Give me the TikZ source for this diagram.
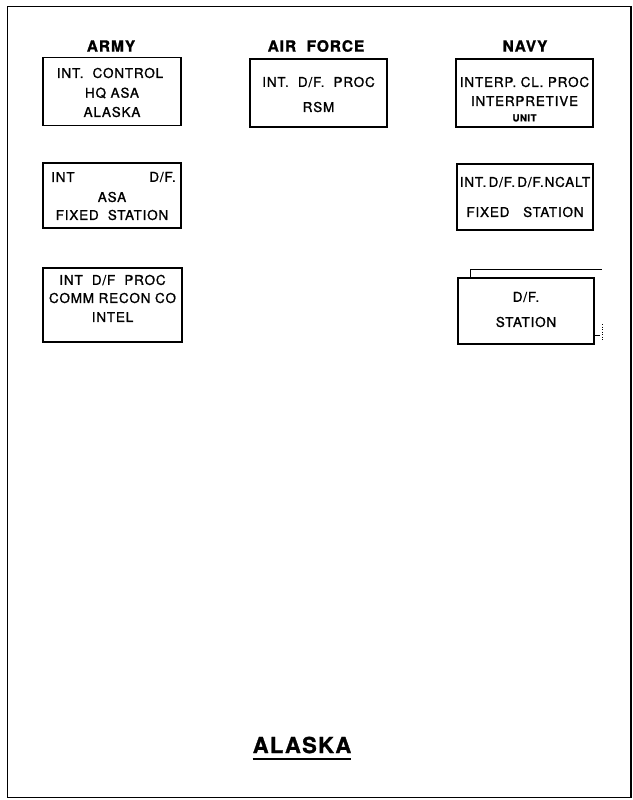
\documentclass[tikz,border=0pt]{standalone}
\usepackage{fontspec}
\setmainfont{TeX Gyre Heros}[LetterSpace=6, FakeBold=1.2]
\begin{document}
\begin{tikzpicture}[x=1pt,y=-1pt,
  box/.style={draw=black, line width=1.2pt, inner sep=0pt},
  txt/.style={inner sep=0pt, font=\fontsize{13.5}{15}\selectfont},
  small/.style={inner sep=0pt, font=\fontsize{9.5}{11}\selectfont\bfseries},
  head/.style={inner sep=0pt, font=\fontsize{15.5}{17}\selectfont\bfseries},
  frame/.style={draw=black, line width=1.6pt}]
\useasboundingbox (0,0) rectangle (632,800);
% outer frame
\draw[frame] (7.5,6.5) -- (631,6.5) -- (631,797.5) -- (7.5,797.5) -- cycle;

% headers
\node[head] (hArmy) at (111,46) {ARMY};
\node[head] (hAir) at (316,46) {AIR\ \ FORCE};
\node[head] (hNavy) at (525,46) {NAVY};

% Army boxes
\node[box, minimum width=138pt, minimum height=68pt] (a1) at (112,91.5) {};
\node[txt] (a1t1) at (110,73) {INT.\ \ CONTROL};
\node[txt] (a1t2) at (112,93) {HQ ASA};
\node[txt] (a1t3) at (112,112) {ALASKA};

\node[box, minimum width=138pt, minimum height=65pt] (a2) at (112,195.5) {};
\node[txt, anchor=west] (a2t1) at (51,177) {INT};
\node[txt, anchor=east] (a2t2) at (176,177) {D/F.};
\node[txt] (a2t3) at (112,197) {ASA};
\node[txt] (a2t4) at (112,215) {FIXED\ \ STATION};

\node[box, minimum width=139pt, minimum height=74pt] (a3) at (112.5,305) {};
\node[txt] (a3t1) at (112.5,280) {INT\ \ D/F\ \ PROC};
\node[txt] (a3t2) at (112.5,298) {COMM RECON CO};
\node[txt] (a3t3) at (112.5,317) {INTEL};

% Air Force box
\node[box, minimum width=137pt, minimum height=68pt] (f1) at (318.5,93) {};
\node[txt] (f1t1) at (318.5,82) {INT.\ \ D/F.\ \ PROC};
\node[txt] (f1t2) at (318.5,107) {RSM};

% Navy boxes
\node[box, minimum width=137pt, minimum height=68pt] (n1) at (524.5,93) {};
\node[txt] (n1t1) at (524.5,82) {INTERP.\ CL.\ PROC};
\node[txt] (n1t2) at (524.5,101) {INTERPRETIVE};
\node[small] (n1t3) at (524.5,118) {UNIT};

\node[box, minimum width=136pt, minimum height=66pt] (n2) at (525,197) {};
\node[txt] (n2t1) at (525,182) {INT.\,D/F.\,D/F.NCALT};
\node[txt] (n2t2) at (525,212) {FIXED\ \ \ STATION};

\node[box, minimum width=136pt, minimum height=66pt] (n3) at (526,311) {};
\node[txt] (n3t1) at (526,297) {D/F.};
\node[txt] (n3t2) at (526,322) {STATION};
\coordinate (n3b1) at (470,278);
\coordinate (n3b2) at (470,269);
\coordinate (n3b3) at (602,269);
\draw[line width=0.8pt] (n3b1) -- (n3b2) -- (n3b3);
\coordinate (n3r) at (600,335);
\draw[line width=0.8pt] (n3.east |- n3r) -- (n3r);
\draw[line width=0.5pt, dotted] (602,324) -- (602,340);

% title
\node[inner sep=0pt, font=\fontsize{22}{24}\selectfont\bfseries] (title) at (302,745) {ALASKA};
\draw[line width=2pt] (title.south west) ++(0,6) coordinate (u1) -- (title.south east |- u1);
\end{tikzpicture}
\end{document}
